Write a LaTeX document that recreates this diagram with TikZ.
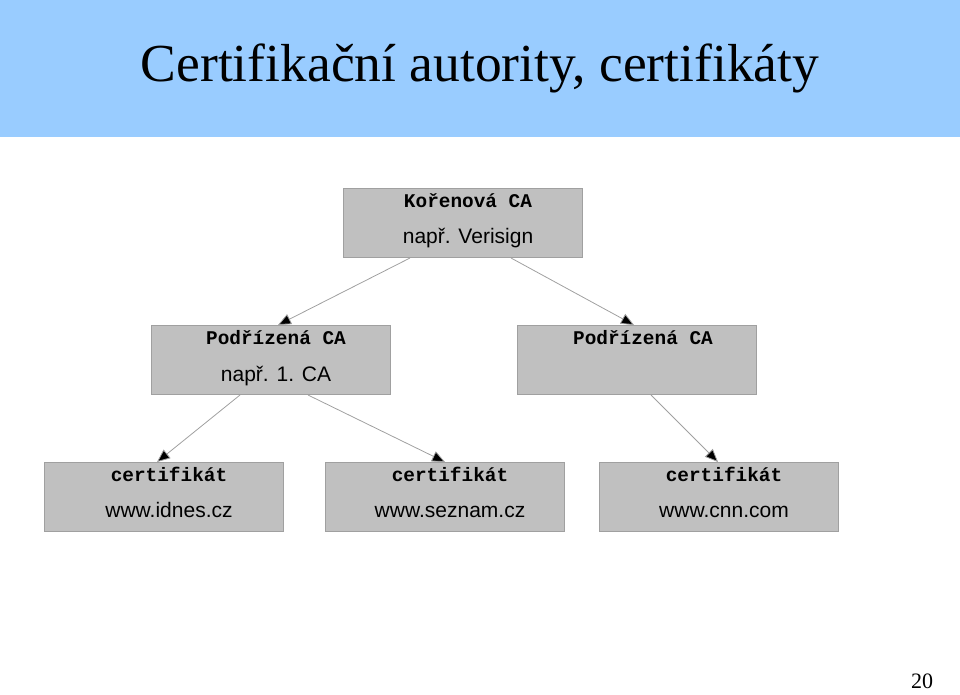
\documentclass[tikz,border=0pt]{standalone}
\usepackage{fontspec}
\setmainfont{Liberation Serif}
\setsansfont{Liberation Sans}
\setmonofont{Liberation Mono}
\usetikzlibrary{arrows.meta}
\definecolor{hdr}{RGB}{153,204,255}
\definecolor{boxf}{RGB}{192,192,192}
\definecolor{boxd}{RGB}{160,160,160}
\tikzset{
 box/.style={draw=boxd,fill=boxf,minimum width=239pt,minimum height=69pt,inner sep=0pt},
 mono/.style={font=\fontsize{19.4}{21}\selectfont\ttfamily\bfseries,text height=13pt,text depth=4pt},
 sans/.style={font=\fontsize{21}{23}\selectfont\sffamily,text height=15pt,text depth=4pt},
 conn/.style={draw=boxd,line width=0.8pt,-{Triangle[length=13pt,width=11pt,fill=black]}}
}
\begin{document}
\begin{tikzpicture}[x=1pt,y=-1pt]
\useasboundingbox (0,0) rectangle (960,694);
\fill[hdr] (0,0) rectangle (960,137);
\node[font=\fontsize{53.5}{56}\selectfont] (title) at (480,68) {Certifikační autority, certifikáty};
\node[box] (root) at (462.5,222.5) {};
\node[box] (l) at (270.5,359.5) {};
\node[box] (r) at (637,359.5) {};
\node[box] (b1) at (164,496.5) {};
\node[box] (b2) at (445,496.5) {};
\node[box] (b3) at (719,496.5) {};
\node[mono] (t0a) at (468,203) {Kořenová CA};
\node[sans] (t0b) at (468,238) {např. Verisign};
\node[mono] (t1a) at (276,340) {Podřízená CA};
\node[sans] (t1b) at (276,376) {např. 1. CA};
\node[mono] (t2a) at (643,340) {Podřízená CA};
\node[mono] (t3a) at (169,477) {certifikát};
\node[sans] (t3b) at (169,512) {www.idnes.cz};
\node[mono] (t4a) at (450,477) {certifikát};
\node[sans] (t4b) at (450,512) {www.seznam.cz};
\node[mono] (t5a) at (724,477) {certifikát};
\node[sans] (t5b) at (724,512) {www.cnn.com};
\coordinate (a1s) at (410,258); \coordinate (a1e) at (278,325);
\coordinate (a2s) at (511,258); \coordinate (a2e) at (634,325);
\coordinate (a3s) at (240,395); \coordinate (a3e) at (157,462);
\coordinate (a4s) at (308,395); \coordinate (a4e) at (445,462);
\coordinate (a5s) at (651,395); \coordinate (a5e) at (718,462);
\draw[conn] (a1s) -- (a1e);
\draw[conn] (a2s) -- (a2e);
\draw[conn] (a3s) -- (a3e);
\draw[conn] (a4s) -- (a4e);
\draw[conn] (a5s) -- (a5e);
\node[font=\fontsize{22}{24}\selectfont,inner sep=1pt] (pg) at (922,681) {20};
\end{tikzpicture}
\end{document}
